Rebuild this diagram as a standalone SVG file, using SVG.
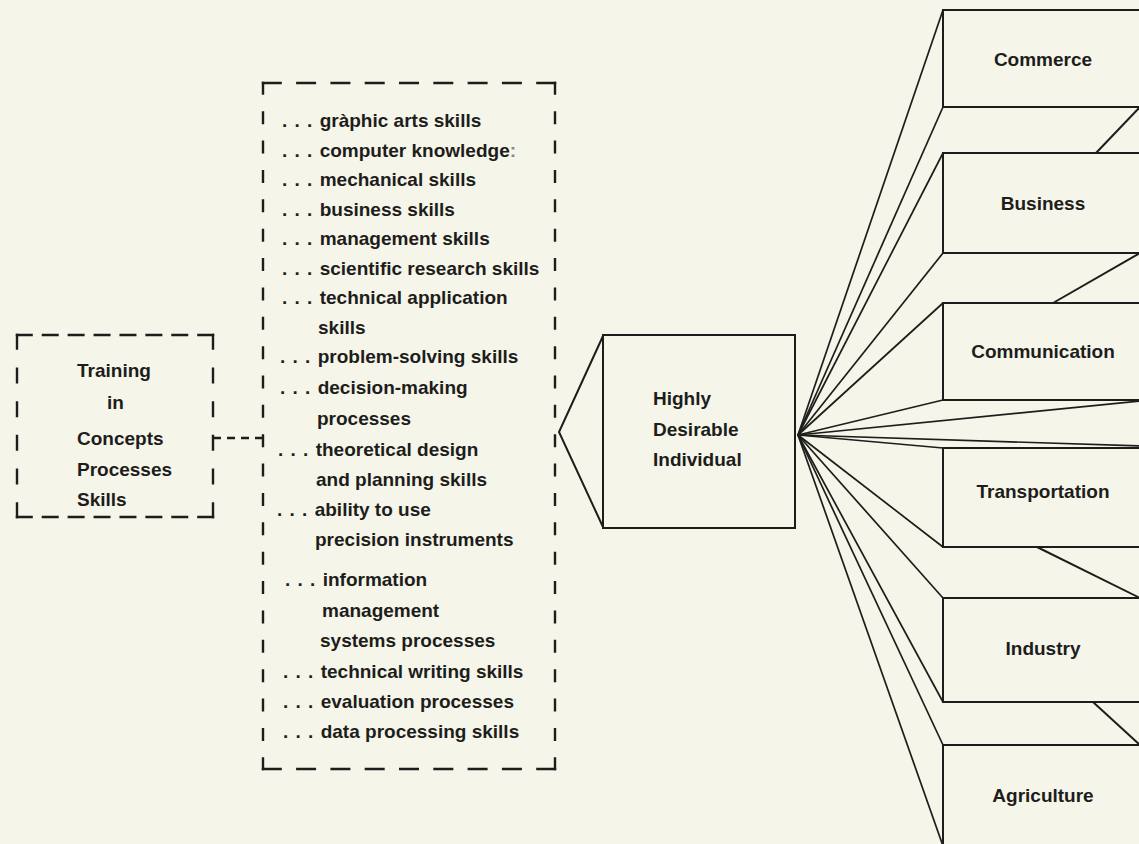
<svg xmlns="http://www.w3.org/2000/svg" width="1139" height="844" viewBox="0 0 1139 844">
  <style>
    text { font-family: "Liberation Sans", Arial, Helvetica, sans-serif; font-weight: bold; font-size: 19px; fill: #1d1d1b; }
    .mid { text-anchor: middle; }
    .d { letter-spacing: 1px; }
    .faint { fill: #8a8a84; }
    .box { fill: #f6f5ea; stroke: #1d1d1b; stroke-width: 2; }
    .dash { fill: none; stroke: #1d1d1b; stroke-width: 2.4; stroke-linecap: square; }
    .ray { fill: none; stroke: #1d1d1b; stroke-width: 1.7; }
    .edge { fill: none; stroke: #1d1d1b; stroke-width: 2; }
  </style>

  <!-- paper -->
  <rect width="1139" height="844" fill="#f6f5ea"/>

  <!-- connectors -->
  <g id="connectors">
    <!-- dashed link between training box and skills list -->
    <line x1="213" y1="438" x2="263" y2="438" stroke="#1d1d1b" stroke-width="2.4" stroke-dasharray="8 6"/>
    <!-- wedge from skills list into the individual -->
    <polyline class="edge" points="603,336 559,432 603,527"/>
    <!-- rays from the individual to the field boxes -->
    <g class="ray">
      <line x1="798" y1="435" x2="943" y2="10"/>
      <line x1="798" y1="435" x2="943" y2="107"/>
      <line x1="798" y1="435" x2="943" y2="153"/>
      <line x1="798" y1="435" x2="943" y2="253"/>
      <line x1="798" y1="435" x2="943" y2="303"/>
      <line x1="798" y1="435" x2="943" y2="400"/>
      <line x1="798" y1="435" x2="1140" y2="401"/>
      <line x1="798" y1="435" x2="1140" y2="446"/>
      <line x1="798" y1="435" x2="943" y2="448"/>
      <line x1="798" y1="435" x2="943" y2="547"/>
      <line x1="798" y1="435" x2="943" y2="598"/>
      <line x1="798" y1="435" x2="943" y2="702"/>
      <line x1="798" y1="435" x2="943" y2="745"/>
      <line x1="798" y1="435" x2="943" y2="846"/>
    </g>
  </g>

  <!-- training box -->
  <g id="training">
    <line class="dash" x1="17" y1="335" x2="213" y2="335" stroke-dasharray="14.6 11.314"/>
    <line class="dash" x1="17" y1="517" x2="213" y2="517" stroke-dasharray="14.6 11.314"/>
    <line class="dash" x1="17" y1="335" x2="17" y2="517" stroke-dasharray="13.6 20.08"/>
    <line class="dash" x1="213" y1="335" x2="213" y2="517" stroke-dasharray="13.6 20.08"/>
    <text x="77" y="377">Training</text>
    <text x="107" y="409">in</text>
    <text x="77" y="445">Concepts</text>
    <text x="77" y="476">Processes</text>
    <text x="77" y="506">Skills</text>
  </g>

  <!-- skills list -->
  <g id="skills-list">
    <line class="dash" x1="263" y1="83" x2="555" y2="83" stroke-dasharray="17.6 16.7"/>
    <line class="dash" x1="263" y1="769" x2="555" y2="769" stroke-dasharray="17.6 16.7"/>
    <line class="dash" x1="263" y1="83" x2="263" y2="769" stroke-dasharray="10.6 18.77"/>
    <line class="dash" x1="555" y1="83" x2="555" y2="769" stroke-dasharray="10.6 18.77"/>

    <text x="282" y="127"><tspan class="d">. . . </tspan>gràphic arts skills</text>
    <text x="282" y="156.5"><tspan class="d">. . . </tspan>computer knowledge<tspan class="faint">:</tspan></text>
    <text x="282" y="186"><tspan class="d">. . . </tspan>mechanical skills</text>
    <text x="282" y="215.5"><tspan class="d">. . . </tspan>business skills</text>
    <text x="282" y="245"><tspan class="d">. . . </tspan>management skills</text>
    <text x="282" y="274.5"><tspan class="d">. . . </tspan>scientific research skills</text>
    <text x="282" y="304"><tspan class="d">. . . </tspan>technical application</text>
    <text x="318" y="333.5">skills</text>
    <text x="280" y="363"><tspan class="d">. . . </tspan>problem-solving skills</text>
    <text x="280" y="394"><tspan class="d">. . . </tspan>decision-making</text>
    <text x="317" y="425">processes</text>
    <text x="278" y="456"><tspan class="d">. . . </tspan>theoretical design</text>
    <text x="316" y="486">and planning skills</text>
    <text x="277" y="516"><tspan class="d">. . . </tspan>ability to use</text>
    <text x="315" y="546">precision instruments</text>
    <text x="285" y="586"><tspan class="d">. . . </tspan>information</text>
    <text x="322" y="617">management</text>
    <text x="320" y="647">systems processes</text>
    <text x="283" y="678"><tspan class="d">. . . </tspan>technical writing skills</text>
    <text x="283" y="708"><tspan class="d">. . . </tspan>evaluation processes</text>
    <text x="283" y="738"><tspan class="d">. . . </tspan>data processing skills</text>
  </g>

  <!-- central node -->
  <g id="individual">
    <rect class="box" x="603" y="335" width="192" height="193"/>
    <text x="653" y="405">Highly</text>
    <text x="653" y="436">Desirable</text>
    <text x="653" y="466">Individual</text>
  </g>

  <!-- field boxes, drawn in perspective toward the individual -->
  <g id="commerce">
    <rect class="box" x="943" y="10" width="220" height="97"/>
    <line class="edge" x1="1140" y1="107" x2="1096" y2="153"/>
    <text class="mid" x="1043" y="66">Commerce</text>
  </g>
  <g id="business">
    <rect class="box" x="943" y="153" width="220" height="100"/>
    <line class="edge" x1="1140" y1="253" x2="1053" y2="303"/>
    <text class="mid" x="1043" y="210">Business</text>
  </g>
  <g id="communication">
    <rect class="box" x="943" y="303" width="220" height="97"/>
    <text class="mid" x="1043" y="358">Communication</text>
  </g>
  <g id="transportation">
    <rect class="box" x="943" y="448" width="220" height="99"/>
    <text class="mid" x="1043" y="498">Transportation</text>
  </g>
  <g id="industry">
    <line class="edge" x1="1140" y1="598" x2="1037" y2="547"/>
    <rect class="box" x="943" y="598" width="220" height="104"/>
    <text class="mid" x="1043" y="655">Industry</text>
  </g>
  <g id="agriculture">
    <line class="edge" x1="1140" y1="745" x2="1093" y2="702"/>
    <rect class="box" x="943" y="745" width="220" height="110"/>
    <text class="mid" x="1043" y="802">Agriculture</text>
  </g>
</svg>
